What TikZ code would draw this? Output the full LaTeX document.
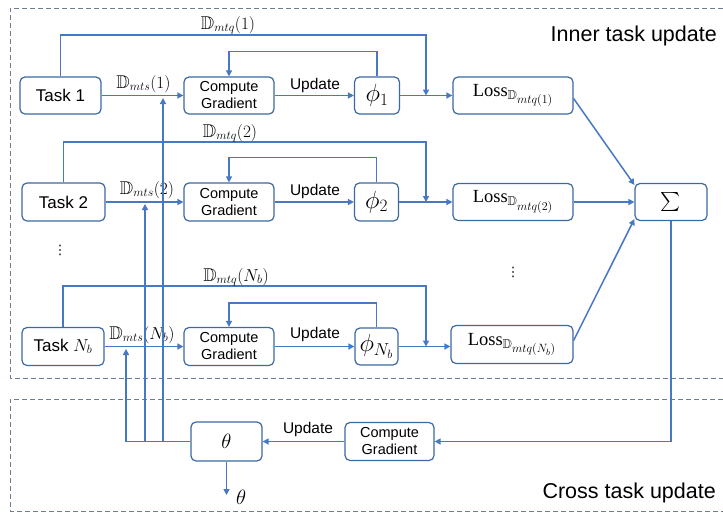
\documentclass[tikz,border=0pt]{standalone}
\usepackage{amssymb}
\usepackage{fontspec}
\newfontfamily\arial{Liberation Sans}
\newfontfamily\tnr{Liberation Serif}
\newfontfamily\dejavu{DejaVu Sans}
\usetikzlibrary{arrows.meta}
\definecolor{linec}{RGB}{70,120,195}
\definecolor{boxc}{RGB}{60,105,160}
\definecolor{dashc}{RGB}{110,125,145}
\tikzset{
  box/.style={draw=boxc, line width=1.2pt, rounded corners=5pt, fill=white, align=center, inner sep=0pt},
  wire/.style={draw=linec, line width=1.5pt},
  arr/.style={wire, -{Triangle[length=6pt,width=6pt]}},
  sans/.style={font=\arial\fontsize{17}{20}\selectfont},
  cgt/.style={font=\arial\fontsize{14.5}{17}\selectfont},
  upd/.style={font=\arial\fontsize{15.5}{18}\selectfont, inner sep=0pt},
  lab/.style={font=\fontsize{18.5}{20}\selectfont, inner sep=0pt},
  losst/.style={font=\fontsize{18.5}{20}\selectfont},
  big/.style={font=\fontsize{21}{24}\selectfont},
  bigphi/.style={font=\fontsize{24}{26}\selectfont},
  region/.style={font=\arial\fontsize{21.5}{24}\selectfont, inner sep=0pt},
  frame/.style={draw=dashc, line width=1pt, dash pattern=on 5pt off 3pt},
  vdot/.style={font=\dejavu\fontsize{13}{15}\selectfont, inner sep=0pt},
}
\begin{document}
\begin{tikzpicture}[x=1pt,y=-1pt]
\useasboundingbox (0,0) rectangle (723,512);
% dashed regions
\draw[frame] (723,8) -- (10,8) -- (10,378) -- (723,378);
\draw[frame] (723,399) -- (10,399) -- (10,511) -- (723,511);
\node[region, anchor=east] (inner) at (717,36) {Inner task update};
\node[region, anchor=east] (cross) at (716,493) {Cross task update};

% row 1
\node[box, sans, minimum width=81pt, minimum height=37pt] (t1) at (60.5,95.5) {Task 1};
\node[box, cgt, minimum width=90pt, minimum height=37pt] (cg1) at (229,95.5) {Compute\\Gradient};
\node[box, bigphi, minimum width=45pt, minimum height=37pt] (p1) at (377,95.5) {$\phi_1$};
\node[box, losst, minimum width=120pt, minimum height=37pt] (loss1) at (513,95.5) {{\tnr Loss}$_{\mathbb{D}_{\scriptstyle mtq(1)}}$};
% row 2
\node[box, sans, minimum width=83pt, minimum height=38pt] (t2) at (63.5,202) {Task 2};
\node[box, cgt, minimum width=90pt, minimum height=38pt] (cg2) at (229,202) {Compute\\Gradient};
\node[box, bigphi, minimum width=44pt, minimum height=38pt] (p2) at (376.5,202) {$\phi_2$};
\node[box, losst, minimum width=120pt, minimum height=37pt] (loss2) at (513,202) {{\tnr Loss}$_{\mathbb{D}_{\scriptstyle mtq(2)}}$};
% row N
\node[box, sans, minimum width=82pt, minimum height=38pt] (tn) at (63,346.5) {Task $N_b$};
\node[box, cgt, minimum width=90pt, minimum height=38pt] (cgn) at (229,346.5) {Compute\\Gradient};
\node[box, bigphi, minimum width=43pt, minimum height=37pt] (pn) at (376.5,346.5) {$\phi_{N_b}$};
\node[box, losst, minimum width=122pt, minimum height=38pt] (lossn) at (512,344.5) {{\tnr Loss}$_{\mathbb{D}_{\scriptstyle mtq(N_b)}}$};
% sum and cross update
\node[box, font=\fontsize{19}{22}\selectfont, minimum width=72pt, minimum height=37pt] (sig) at (671,202) {$\sum$};
\node[box, big, minimum width=71pt, minimum height=39pt] (th) at (226.5,441.5) {$\theta$};
\node[box, cgt, minimum width=89pt, minimum height=38pt] (cgb) at (389.5,441.5) {Compute\\Gradient};

% dots
\node[vdot] (dl) at (60,250) {⋮};
\node[vdot] (dr) at (513,272) {⋮};

% junction coordinates
\coordinate (j1) at (426,95.5);
\coordinate (j2) at (426,202);
\coordinate (jn) at (426,346.5);

% row 1 connections
\draw[arr] (t1) -- (cg1);
\draw[arr] (cg1) -- (p1);
\draw[arr] (p1) -- (loss1);
\draw[arr] (p1.north) -- ++(0,-25) -| (cg1.north);
\draw[arr] (t1.north) -- ++(0,-41.5) -| (j1);
\node[lab] (q1) at (228,25) {$\mathbb{D}_{mtq}(1)$};
\node[lab] (s1) at (143.5,84) {$\mathbb{D}_{mts}(1)$};
\node[upd] (u1) at (315,85) {Update};
% row 2
\draw[arr] (t2) -- (cg2);
\draw[arr] (cg2) -- (p2);
\draw[arr] (p2) -- (loss2);
\draw[arr] (p2.north) -- ++(0,-25) -| (cg2.north);
\draw[arr] (t2.north) -- ++(0,-40.5) -| (j2);
\node[lab] (q2) at (230,133) {$\mathbb{D}_{mtq}(2)$};
\node[lab] (s2) at (147,190) {$\mathbb{D}_{mts}(2)$};
\node[upd] (u2) at (315,191) {Update};
% row N
\draw[arr] (tn) -- (cgn);
\draw[arr] (cgn) -- (pn);
\draw[arr] (pn.east) -- (pn.east -| lossn.west);
\draw[arr] (pn.north) -- ++(0,-24.5) -| (cgn.north);
\draw[arr] (tn.north) -- ++(0,-41) -| (jn);
\node[lab] (qn) at (236,277) {$\mathbb{D}_{mtq}(N_b)$};
\node[lab] (sn) at (142,335) {$\mathbb{D}_{mts}(N_b)$};
\node[upd] (un) at (315,334) {Update};

% to sum
\draw[arr] ([yshift=-3pt]loss1.east) -- ([yshift=-2pt]sig.north west);
\draw[arr] (loss2) -- (sig);
\draw[arr] ([yshift=4pt]lossn.east) -- ([yshift=2pt]sig.south west);

% cross task update
\draw[arr] (sig.south) |- (cgb.east);
\draw[arr] (cgb) -- (th);
\node[upd] (ub) at (308,429) {Update};
\coordinate (thout) at (226.5,495);
\draw[arr] (th.south) -- (thout);
\node[big, anchor=west, inner sep=0pt] (thlab) at (236,497) {$\theta$};

\coordinate (b0) at (126,441.5);
\coordinate (b1) at (145,441.5);
\coordinate (b2) at (163,441.5);
\draw[wire] (th.west) -- (b0);
\draw[arr] (b0) -- (126,349);
\draw[arr] (b1) -- (145,204);
\draw[arr] (b2) -- (163,98);
\end{tikzpicture}
\end{document}
